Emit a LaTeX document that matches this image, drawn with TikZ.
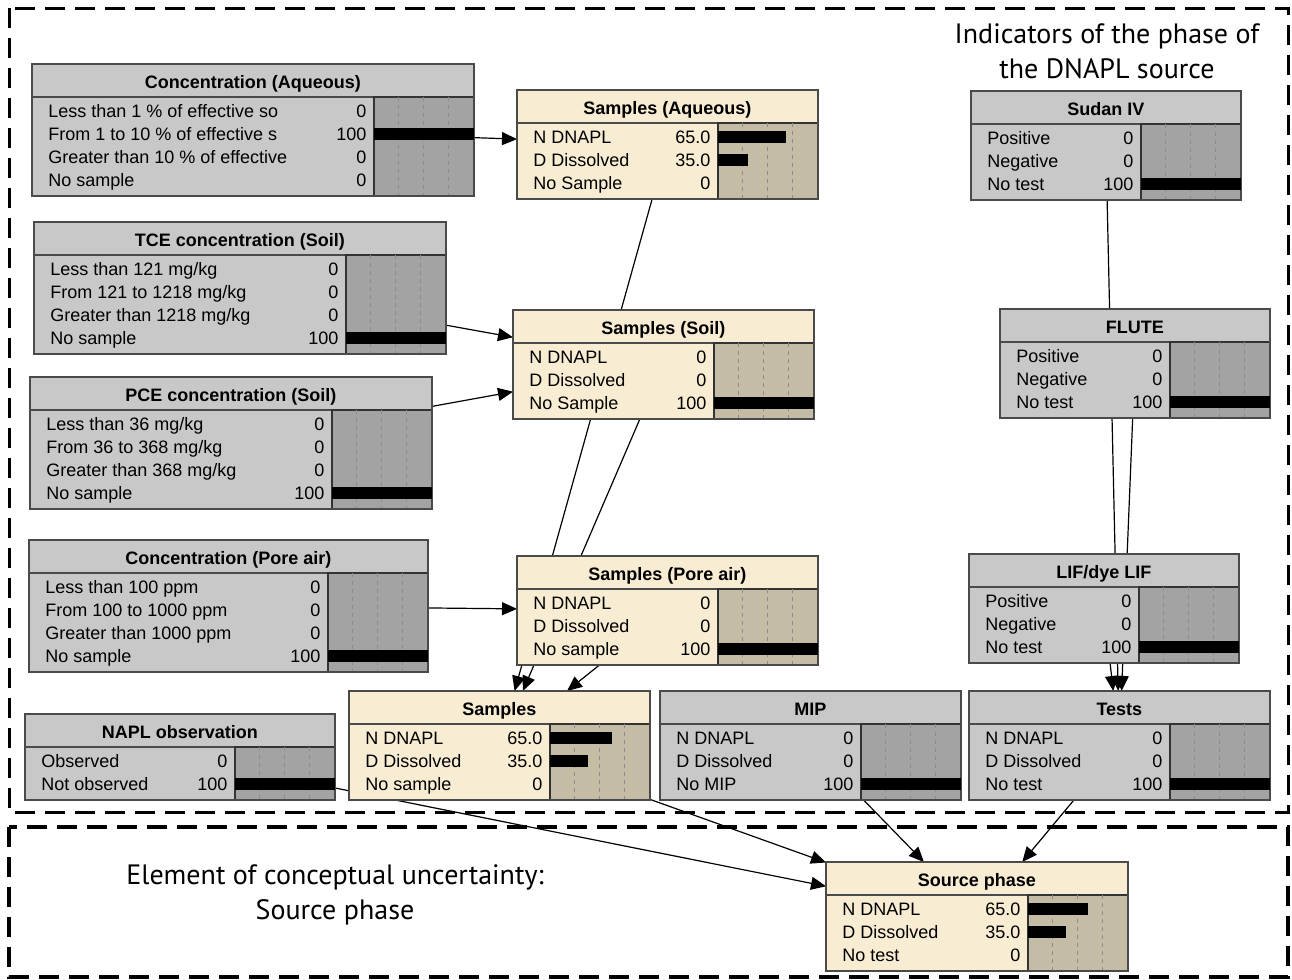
\documentclass[tikz,border=0pt]{standalone}
\usepackage{fontspec}
\setmainfont{Liberation Sans}
\newfontfamily\notefont{PT Sans}
\usetikzlibrary{shapes,arrows,arrows.meta,positioning,fit,backgrounds,calc}

\definecolor{greybody}{HTML}{C8C8C8}
\definecolor{greybars}{HTML}{A3A3A3}
\definecolor{tanbody}{HTML}{F8EDD3}
\definecolor{tanbars}{HTML}{C5BCA5}
\definecolor{boxedge}{HTML}{4A4A4A}

\tikzset{
  greynode/.style={fill=greybody, inner sep=0pt, anchor=north west},
  tannode/.style={fill=tanbody, inner sep=0pt, anchor=north west},
  greychart/.style={fill=greybars, draw=black!80, line width=0.8pt},
  tanchart/.style={fill=tanbars, draw=black!80, line width=0.8pt},
  boxline/.style={draw=boxedge, line width=1pt},
  gridline/.style={draw=black!45, line width=0.4pt, dash pattern=on 2pt off 2pt},
  rowtext/.style={font=\fontsize{9}{11}\selectfont, inner sep=0pt},
  titletext/.style={font=\fontsize{9}{11}\selectfont\bfseries, inner sep=0pt},
  notetext/.style={font=\notefont\fontsize{14}{17.5}\selectfont, align=center, inner sep=0pt},
  frame/.style={dash pattern=on 10pt off 5pt, line width=1.5pt},
  link/.style={->, line width=0.6pt},
}

% one belief box: name, kind, left, top, width, rows, title
\newcommand{\bnode}[7]{%
  \pgfmathsetmacro{\bnheight}{39+23*#6}
  \node[#2node, minimum width=#5*0.5pt, minimum height=\bnheight*0.5pt] (#1) at (#3,#4) {};
  \draw[boxline] ($(#1.north west)+(0,33)$) -- ($(#1.north east)+(0,33)$);
  \path[#2chart] ($(#1.north east)+(-100,33)$) rectangle (#1.south east);
  \foreach \g in {25,50,75}
    \draw[gridline] ($(#1.north east)+(-100+\g,33)$) -- ($(#1.south east)+(-100+\g,0)$);
  \draw[boxline] (#1.north west) rectangle (#1.south east);
  \node[titletext, anchor=base] (#1-title) at ($(#1.north)+(0,24.5)$) {#7};
}

% one state line: node, row, label, value, bar length
\newcommand{\staterow}[5]{%
  \pgfmathsetmacro{\rowy}{47+23*(#2-1)}
  \node[rowtext, anchor=base west] (#1-s#2) at ($(#1.north west)+(16,\rowy+6.4)$) {#3};
  \node[rowtext, anchor=base east] (#1-v#2) at ($(#1.north east)+(-107,\rowy+6.4)$) {#4};
  \ifdim #5pt>0pt
    \fill ($(#1.north east)+(-100,\rowy-6)$) rectangle ++(#5,12);
  \fi
}

\begin{document}
\begin{tikzpicture}[x=0.5pt, y=-0.5pt, >={Triangle[length=7.5pt,width=6.5pt]}]
\useasboundingbox (0,0) rectangle (1292,980);

% dashed frames
\draw[frame] (9,8) rectangle (1288,812);
\draw[frame, line width=2pt] (9,827) rectangle (1288,977);

\node[notetext] (indic) at (1107,51) {Indicators of the phase of\\the DNAPL source};
\node[notetext] (elem) at (335,895) {Element of conceptual uncertainty:\\Source phase};

% indicators, left column
\bnode{ca}{grey}{32}{64}{441}{4}{Concentration (Aqueous)}
\staterow{ca}{1}{Less than 1 \% of effective so}{0}{0}
\staterow{ca}{2}{From 1 to 10 \% of effective s}{100}{100}
\staterow{ca}{3}{Greater than 10 \% of effective}{0}{0}
\staterow{ca}{4}{No sample}{0}{0}

\bnode{tce}{grey}{34}{222}{411}{4}{TCE concentration (Soil)}
\staterow{tce}{1}{Less than 121 mg/kg}{0}{0}
\staterow{tce}{2}{From 121 to 1218 mg/kg}{0}{0}
\staterow{tce}{3}{Greater than 1218 mg/kg}{0}{0}
\staterow{tce}{4}{No sample}{100}{100}

\bnode{pce}{grey}{30}{377}{401}{4}{PCE concentration (Soil)}
\staterow{pce}{1}{Less than 36 mg/kg}{0}{0}
\staterow{pce}{2}{From 36 to 368 mg/kg}{0}{0}
\staterow{pce}{3}{Greater than 368 mg/kg}{0}{0}
\staterow{pce}{4}{No sample}{100}{100}

\bnode{cpa}{grey}{29}{540}{398}{4}{Concentration (Pore air)}
\staterow{cpa}{1}{Less than 100 ppm}{0}{0}
\staterow{cpa}{2}{From 100 to 1000 ppm}{0}{0}
\staterow{cpa}{3}{Greater than 1000 ppm}{0}{0}
\staterow{cpa}{4}{No sample}{100}{100}

\bnode{napl}{grey}{25}{714}{309}{2}{NAPL observation}
\staterow{napl}{1}{Observed}{0}{0}
\staterow{napl}{2}{Not observed}{100}{100}

% samples column
\bnode{sa}{tan}{517}{90}{300}{3}{Samples (Aqueous)}
\staterow{sa}{1}{N DNAPL}{65.0}{68}
\staterow{sa}{2}{D Dissolved}{35.0}{30}
\staterow{sa}{3}{No Sample}{0}{0}

\bnode{ssoil}{tan}{513}{310}{300}{3}{Samples (Soil)}
\staterow{ssoil}{1}{N DNAPL}{0}{0}
\staterow{ssoil}{2}{D Dissolved}{0}{0}
\staterow{ssoil}{3}{No Sample}{100}{100}

\bnode{spa}{tan}{517}{556}{300}{3}{Samples (Pore air)}
\staterow{spa}{1}{N DNAPL}{0}{0}
\staterow{spa}{2}{D Dissolved}{0}{0}
\staterow{spa}{3}{No sample}{100}{100}

\bnode{smp}{tan}{349}{691}{300}{3}{Samples}
\staterow{smp}{1}{N DNAPL}{65.0}{62}
\staterow{smp}{2}{D Dissolved}{35.0}{38}
\staterow{smp}{3}{No sample}{0}{0}

\bnode{mip}{grey}{660}{691}{300}{3}{MIP}
\staterow{mip}{1}{N DNAPL}{0}{0}
\staterow{mip}{2}{D Dissolved}{0}{0}
\staterow{mip}{3}{No MIP}{100}{100}

% tests column
\bnode{sudan}{grey}{971}{91}{269}{3}{Sudan IV}
\staterow{sudan}{1}{Positive}{0}{0}
\staterow{sudan}{2}{Negative}{0}{0}
\staterow{sudan}{3}{No test}{100}{100}

\bnode{flute}{grey}{1000}{309}{269}{3}{FLUTE}
\staterow{flute}{1}{Positive}{0}{0}
\staterow{flute}{2}{Negative}{0}{0}
\staterow{flute}{3}{No test}{100}{100}

\bnode{lif}{grey}{969}{554}{269}{3}{LIF/dye LIF}
\staterow{lif}{1}{Positive}{0}{0}
\staterow{lif}{2}{Negative}{0}{0}
\staterow{lif}{3}{No test}{100}{100}

\bnode{tests}{grey}{969}{691}{300}{3}{Tests}
\staterow{tests}{1}{N DNAPL}{0}{0}
\staterow{tests}{2}{D Dissolved}{0}{0}
\staterow{tests}{3}{No test}{100}{100}

\bnode{src}{tan}{826}{862}{301}{3}{Source phase}
\staterow{src}{1}{N DNAPL}{65.0}{60}
\staterow{src}{2}{D Dissolved}{35.0}{38}
\staterow{src}{3}{No test}{0}{0}

% links run from centre to centre, behind the boxes
\begin{scope}[on background layer]
\draw[link] (ca.center) -- (sa);
\draw[link] (tce.center) -- (ssoil);
\draw[link] (pce.center) -- (ssoil);
\draw[link] (cpa.center) -- (spa);
\draw[link] (sa.center) -- (smp);
\draw[link] (ssoil.center) -- (smp);
\draw[link] (spa.center) -- (smp);
\draw[link] (sudan.center) -- (tests);
\draw[link] (flute.center) -- (tests);
\draw[link] (lif.center) -- (tests);
\draw[link] (napl.center) -- (src);
\draw[link] (smp.center) -- (src);
\draw[link] (mip.center) -- (src);
\draw[link] (tests.center) -- (src);
\end{scope}
\end{tikzpicture}
\end{document}
